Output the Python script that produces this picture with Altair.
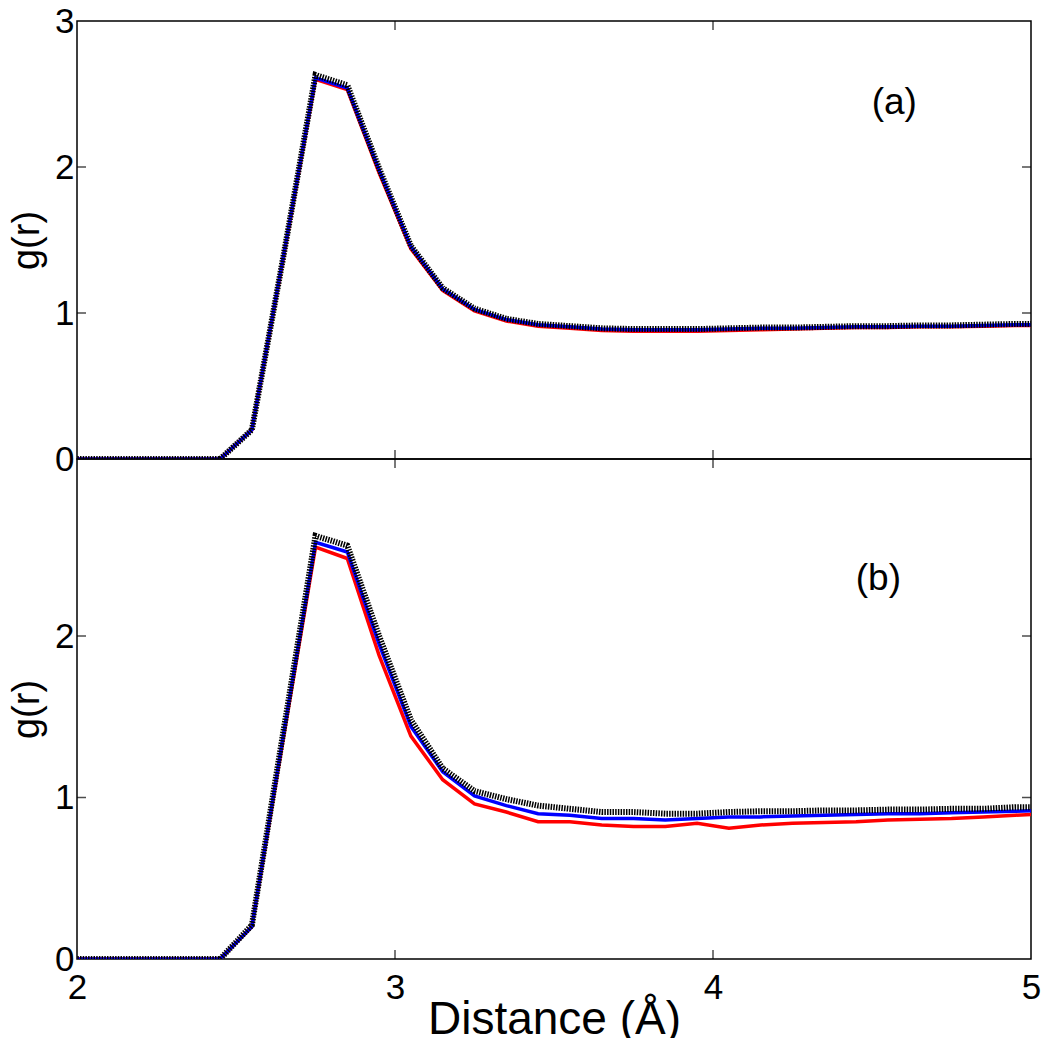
import altair as alt
import pandas as pd

# r grid (Angstrom)
r_vals = [1.95, 2.05, 2.15, 2.25, 2.35, 2.45, 2.55, 2.65, 2.75, 2.85, 2.95,
          3.05, 3.15, 3.25, 3.35, 3.45, 3.55, 3.65, 3.75, 3.85, 3.95,
          4.05, 4.15, 4.25, 4.35, 4.45, 4.55, 4.65, 4.75, 4.85, 4.95, 5.05]

# panel (a)
a_black = [0, 0, 0, 0, 0, 0, 0.20, 1.40, 2.63, 2.56, 1.99,
           1.46, 1.17, 1.03, 0.96, 0.925, 0.91, 0.895, 0.89, 0.89, 0.89,
           0.895, 0.90, 0.90, 0.905, 0.91, 0.91, 0.915, 0.915, 0.92, 0.925, 0.925]
a_blue = [0, 0, 0, 0, 0, 0, 0.20, 1.40, 2.61, 2.54, 1.98,
          1.455, 1.165, 1.025, 0.955, 0.92, 0.905, 0.89, 0.885, 0.885, 0.885,
          0.89, 0.895, 0.895, 0.90, 0.905, 0.905, 0.91, 0.91, 0.915, 0.92, 0.92]
a_red = [0, 0, 0, 0, 0, 0, 0.20, 1.39, 2.60, 2.53, 1.96,
         1.44, 1.155, 1.015, 0.945, 0.91, 0.895, 0.88, 0.875, 0.875, 0.875,
         0.88, 0.885, 0.89, 0.895, 0.90, 0.90, 0.905, 0.905, 0.91, 0.915, 0.915]

# panel (b)
b_black = [0, 0, 0, 0, 0, 0, 0.21, 1.42, 2.62, 2.56, 2.00,
           1.48, 1.18, 1.04, 0.99, 0.95, 0.93, 0.91, 0.91, 0.90, 0.90,
           0.91, 0.915, 0.915, 0.92, 0.92, 0.925, 0.925, 0.93, 0.93, 0.94, 0.94]
b_blue = [0, 0, 0, 0, 0, 0, 0.20, 1.40, 2.58, 2.52, 1.95,
          1.44, 1.16, 1.01, 0.95, 0.90, 0.89, 0.87, 0.87, 0.86, 0.87,
          0.88, 0.88, 0.885, 0.89, 0.895, 0.90, 0.90, 0.905, 0.91, 0.915, 0.92]
b_red = [0, 0, 0, 0, 0, 0, 0.20, 1.38, 2.55, 2.48, 1.88,
         1.38, 1.11, 0.96, 0.91, 0.85, 0.85, 0.83, 0.82, 0.82, 0.84,
         0.81, 0.83, 0.84, 0.845, 0.85, 0.86, 0.865, 0.87, 0.88, 0.89, 0.90]

x_ticks = [2, 3, 4, 5]
x_inner_ticks = [3, 4]
top_y_ticks = [0, 1, 2, 3]
bot_y_ticks = [0, 1, 2]
inner_y_ticks = [1, 2]
panel_labels = ["(a)", "(b)"]
label_r = [4.57, 4.52]
label_g = [2.44, 2.35]

FONT = "Liberation Sans"
X_DOMAIN = [2, 5]


def line_df(vals):
    return pd.DataFrame({"r": r_vals, "g": vals})


def panel(black, blue, red, ydomain, yticks, label, lr, lg, height, bottom):
    if bottom:
        xaxis = alt.Axis(values=x_ticks, format="d", title="Distance (Å)",
                         labelFontSize=35, titleFontSize=46, titleFontWeight="normal",
                         labelPadding=11, titlePadding=-8, ticks=False, domain=False,
                         grid=False, labelFlush=False, labelOverlap=False,
                         labelColor="black", titleColor="black")
    else:
        xaxis = None
    x = alt.X("r:Q", scale=alt.Scale(domain=X_DOMAIN, nice=False, zero=False), axis=xaxis)
    y = alt.Y("g:Q", scale=alt.Scale(domain=ydomain, nice=False),
              axis=alt.Axis(values=yticks, format="d", title="g(r)",
                            labelFontSize=35, titleFontSize=38, titleFontWeight="normal",
                            labelPadding=3, titlePadding=8, ticks=False, domain=False,
                            grid=False, labelOverlap=False, labelColor="black",
                            titleColor="black"))

    red_l = alt.Chart(line_df(red)).mark_line(color="#ff0000", strokeWidth=3.5, clip=True).encode(x=x, y=y)
    blue_l = alt.Chart(line_df(blue)).mark_line(color="#0000ff", strokeWidth=3.5, clip=True).encode(x=x, y=y)
    black_l = alt.Chart(line_df(black)).mark_line(color="#000000", strokeWidth=6,
                                                  strokeDash=[1.5, 1.2], clip=True).encode(x=x, y=y)

    ytick_df = pd.DataFrame([{"r": xe, "g": v} for xe in X_DOMAIN for v in inner_y_ticks])
    ytk = alt.Chart(ytick_df).mark_tick(orient="horizontal", size=18, thickness=1.5,
                                        color="black", clip=True).encode(x=x, y=y)
    xtick_df = pd.DataFrame([{"r": v, "g": ye} for v in x_inner_ticks for ye in ydomain])
    xtk = alt.Chart(xtick_df).mark_tick(orient="vertical", size=18, thickness=1.5,
                                        color="black", clip=True).encode(x=x, y=y)

    txt = alt.Chart(pd.DataFrame({"r": [lr], "g": [lg], "t": [label]})).mark_text(
        fontSize=37, font=FONT, color="black", align="center", baseline="middle"
    ).encode(x=x, y=y, text="t:N")

    return alt.layer(ytk, xtk, red_l, blue_l, black_l, txt).properties(width=954, height=height)


top = panel(a_black, a_blue, a_red, [0, 3], top_y_ticks, panel_labels[0], label_r[0], label_g[0], 438, False)
bot = panel(b_black, b_blue, b_red, [0, 3.096], bot_y_ticks, panel_labels[1], label_r[1], label_g[1], 500, True)

chart = alt.vconcat(
    top, bot, spacing=0, bounds="flush",
    padding={"left": -1, "top": -5, "right": 0, "bottom": 0},
).configure(font=FONT).configure_view(stroke="black", strokeWidth=1.5)

chart.save("out.html", embed_options={"renderer": "svg", "actions": False})
